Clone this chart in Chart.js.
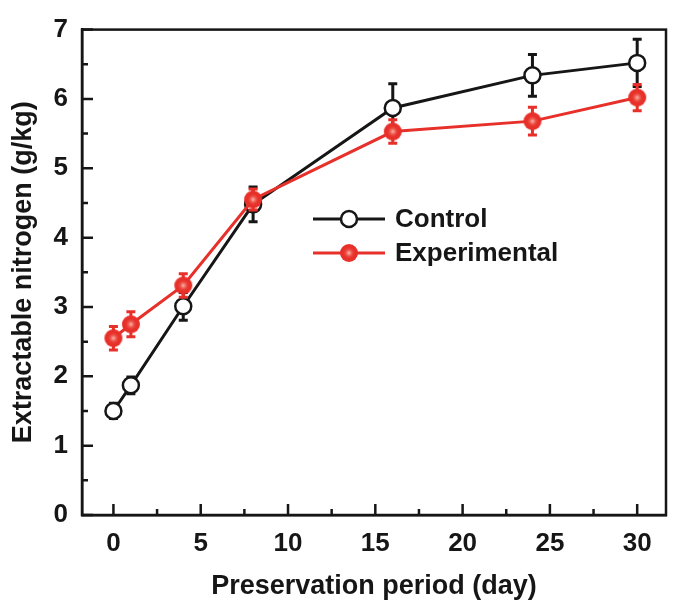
<!DOCTYPE html>
<html>
<head>
<meta charset="utf-8">
<title>Extractable nitrogen</title>
<script src="https://cdn.jsdelivr.net/npm/chart.js@4/dist/chart.umd.min.js"></script>
<style>
  html, body { margin: 0; padding: 0; background: #fff; }
  #wrap { width: 678px; height: 605px; }
</style>
</head>
<body>
<div id="wrap"><canvas id="chart"></canvas></div>
<script>
// data
const days = [0, 1, 4, 8, 16, 24, 30];
const control = [1.50, 1.87, 3.01, 4.48, 5.87, 6.34, 6.52];
const controlErr = [0.11, 0.12, 0.20, 0.25, 0.35, 0.30, 0.34];
const experimental = [2.55, 2.75, 3.31, 4.55, 5.53, 5.68, 6.02];
const experimentalErr = [0.17, 0.18, 0.17, 0.15, 0.17, 0.20, 0.19];
const xTicks = [0, 5, 10, 15, 20, 25, 30];
const yTicks = [0, 1, 2, 3, 4, 5, 6, 7];
const seriesNames = ['Control', 'Experimental'];

const FONT = "'Liberation Sans', Arial, sans-serif";
const INK = '#161616';
const RED = '#e8302a';

// red ball marker with a light centre
function redDot(r) {
  const c = document.createElement('canvas');
  const s = Math.ceil(r * 2 + 2);
  c.width = c.height = s;
  const g = c.getContext('2d');
  const m = s / 2;
  g.fillStyle = RED;
  g.beginPath(); g.arc(m, m, r, 0, Math.PI * 2); g.fill();
  const grad = g.createRadialGradient(m, m, 0, m, m, r * 0.7);
  grad.addColorStop(0, 'rgba(255,200,190,0.95)');
  grad.addColorStop(0.45, 'rgba(240,120,105,0.6)');
  grad.addColorStop(1, 'rgba(232,48,42,0)');
  g.fillStyle = grad;
  g.beginPath(); g.arc(m, m, r, 0, Math.PI * 2); g.fill();
  return c;
}
const dot = redDot(9);

const errors = [controlErr, experimentalErr];
const errColors = [INK, RED];

const errorBars = {
  id: 'errorBars',
  beforeDatasetDraw(chart, args) {
    const i = args.index;
    const ds = chart.data.datasets[i];
    const ys = chart.scales.y, xs = chart.scales.x;
    const ctx = chart.ctx;
    ctx.save();
    ctx.strokeStyle = errColors[i];
    ctx.lineWidth = 3;
    ds.data.forEach((p, k) => {
      const x = xs.getPixelForValue(p.x);
      const top = ys.getPixelForValue(p.y + errors[i][k]);
      const bot = ys.getPixelForValue(p.y - errors[i][k]);
      ctx.beginPath();
      ctx.moveTo(x, top); ctx.lineTo(x, bot);
      ctx.moveTo(x - 4.5, top); ctx.lineTo(x + 4.5, top);
      ctx.moveTo(x - 4.5, bot); ctx.lineTo(x + 4.5, bot);
      ctx.stroke();
    });
    ctx.restore();
  }
};

const frameAndTicks = {
  id: 'frameAndTicks',
  afterDraw(chart) {
    const { ctx, chartArea: a, scales } = chart;
    ctx.save();
    ctx.strokeStyle = INK;
    ctx.lineWidth = 2.5;
    ctx.strokeRect(a.left, a.top, a.right - a.left, a.bottom - a.top);
    ctx.beginPath();
    // inward ticks, major and minor
    for (let v = 0; v <= 7.001; v += 0.5) {
      const y = scales.y.getPixelForValue(v);
      const len = Number.isInteger(v) ? 11 : 6;
      ctx.moveTo(a.left, y); ctx.lineTo(a.left + len, y);
    }
    for (let v = 0; v <= 30.001; v += 2.5) {
      const x = scales.x.getPixelForValue(v);
      const len = v % 5 === 0 ? 11 : 6;
      ctx.moveTo(x, a.bottom); ctx.lineTo(x, a.bottom - len);
    }
    ctx.stroke();

    // legend inside the plot
    const rows = [219, 253];
    ctx.font = 'bold 26px ' + FONT;
    ctx.textBaseline = 'middle';
    ctx.fillStyle = INK;
    rows.forEach((y, i) => {
      ctx.strokeStyle = i === 0 ? INK : RED;
      ctx.lineWidth = 3;
      ctx.beginPath(); ctx.moveTo(313, y); ctx.lineTo(385, y); ctx.stroke();
      if (i === 0) {
        ctx.fillStyle = '#fff';
        ctx.lineWidth = 2.5;
        ctx.beginPath(); ctx.arc(349, y, 8, 0, Math.PI * 2); ctx.fill(); ctx.stroke();
      } else {
        ctx.drawImage(dot, 349 - dot.width / 2, y - dot.height / 2);
      }
      ctx.fillStyle = INK;
      ctx.fillText(seriesNames[i], 395, y + 1);
    });
    ctx.restore();
  }
};

new Chart(document.getElementById('chart'), {
  type: 'line',
  data: {
    datasets: [
      {
        label: seriesNames[0],
        data: days.map((d, i) => ({ x: d, y: control[i] })),
        borderColor: INK,
        borderWidth: 3,
        pointStyle: 'circle',
        pointRadius: 8,
        pointBorderWidth: 2.5,
        pointBackgroundColor: '#fff',
        pointBorderColor: INK,
        order: 1,
      },
      {
        label: seriesNames[1],
        data: days.map((d, i) => ({ x: d, y: experimental[i] })),
        borderColor: RED,
        borderWidth: 3,
        pointStyle: dot,
        pointRadius: 9,
        pointBackgroundColor: RED,
        pointBorderColor: RED,
        order: 0,
      },
    ],
  },
  options: {
    responsive: true,
    maintainAspectRatio: false,
    animation: false,
    events: [],
    layout: { padding: { top: 26, right: 2, left: 0, bottom: 0 } },
    plugins: { legend: { display: false }, tooltip: { enabled: false } },
    scales: {
      x: {
        type: 'linear',
        min: -1.8,
        max: 31.65,
        afterBuildTicks: s => { s.ticks = xTicks.map(v => ({ value: v })); },
        afterFit: s => { s.height = 90; },
        grid: { display: false, drawTicks: false, tickLength: 0 },
        border: { display: true, color: INK, width: 2.5 },
        ticks: { color: INK, padding: 13, font: { family: FONT, size: 26, weight: 'bold' } },
        title: {
          display: true,
          text: 'Preservation period (day)',
          color: INK,
          padding: { top: 4, bottom: 2 },
          font: { family: FONT, size: 27, weight: 'bold' },
        },
      },
      y: {
        min: 0,
        max: 7,
        afterBuildTicks: s => { s.ticks = yTicks.map(v => ({ value: v })); },
        afterFit: s => { s.width = 82; },
        grid: { display: false, drawTicks: false, tickLength: 0 },
        border: { display: true, color: INK, width: 2.5 },
        ticks: { color: INK, padding: 14, font: { family: FONT, size: 26, weight: 'bold' } },
        title: {
          display: true,
          text: 'Extractable nitrogen (g/kg)',
          color: INK,
          padding: { top: 7, bottom: 7 },
          font: { family: FONT, size: 27, weight: 'bold' },
        },
      },
    },
  },
  plugins: [errorBars, frameAndTicks],
});
</script>
</body>
</html>
